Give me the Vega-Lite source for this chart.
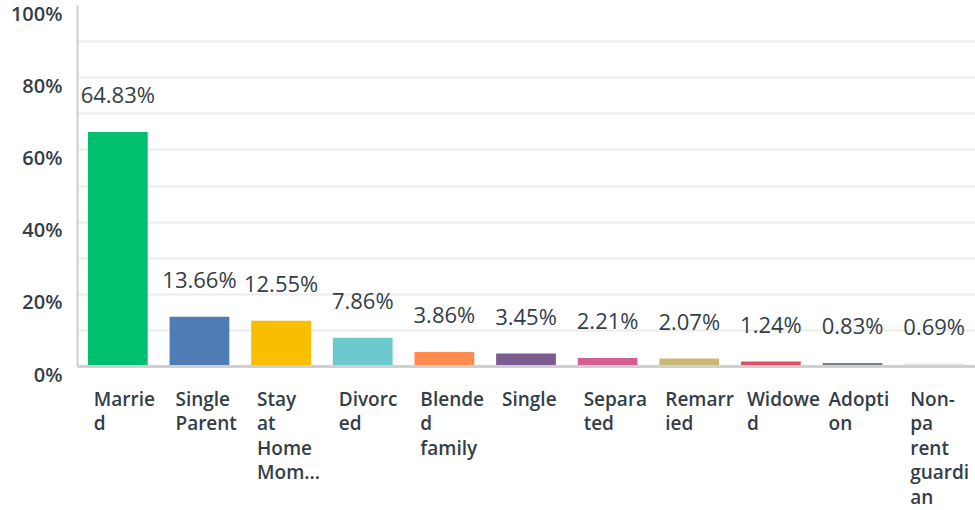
{
  "$schema": "https://vega.github.io/schema/vega-lite/v6.json",
  "autosize": "none",
  "width": 898,
  "height": 361,
  "padding": {"left": 77, "top": 5, "right": 0, "bottom": 144},
  "background": "white",
  "config": {"view": {"stroke": null}},
  "data": {
    "values": [
      {"category": "Married", "pct": 64.83, "label": "64.83%"},
      {"category": "Single Parent", "pct": 13.66, "label": "13.66%"},
      {"category": "Stay at Home Mom...", "pct": 12.55, "label": "12.55%"},
      {"category": "Divorced", "pct": 7.86, "label": "7.86%"},
      {"category": "Blended family", "pct": 3.86, "label": "3.86%"},
      {"category": "Single", "pct": 3.45, "label": "3.45%"},
      {"category": "Separated", "pct": 2.21, "label": "2.21%"},
      {"category": "Remarried", "pct": 2.07, "label": "2.07%"},
      {"category": "Widowed", "pct": 1.24, "label": "1.24%"},
      {"category": "Adoption", "pct": 0.83, "label": "0.83%"},
      {"category": "Non-parent guardian", "pct": 0.69, "label": "0.69%"}
    ]
  },
  "encoding": {
    "x": {
      "field": "category",
      "type": "nominal",
      "sort": null,
      "scale": {"paddingInner": 0.268, "paddingOuter": 0.134},
      "axis": {
        "title": null,
        "labelAngle": 0,
        "labelAlign": "left",
        "labelBaseline": "top",
        "labelOffset": -24,
        "labelPadding": 24,
        "labelFont": "Open Sans",
        "labelFontSize": 19,
        "labelFontWeight": 600,
        "labelColor": "#333e48",
        "labelLineHeight": 24.5,
        "labelLimit": 200,
        "labelExpr": "{'Married':['Marrie','d'],'Single Parent':['Single','Parent'],'Stay at Home Mom...':['Stay','at','Home','Mom...'],'Divorced':['Divorc','ed'],'Blended family':['Blende','d','family'],'Single':['Single'],'Separated':['Separa','ted'],'Remarried':['Remarr','ied'],'Widowed':['Widowe','d'],'Adoption':['Adopti','on'],'Non-parent guardian':['Non-','pa','rent','guardi','an']}[datum.label]",
        "ticks": false,
        "domainColor": "#d0d0d0",
        "domainWidth": 3,
        "zindex": 1
      }
    },
    "y": {
      "field": "pct",
      "type": "quantitative",
      "scale": {"domain": [0, 100], "nice": false},
      "axis": {
        "title": null,
        "values": [0, 10, 20, 30, 40, 50, 60, 70, 80, 90, 100],
        "labelExpr": "datum.value % 20 == 0 ? datum.value + '%' : ''",
        "labelFont": "Open Sans",
        "labelFontSize": 20,
        "labelFontWeight": 600,
        "labelColor": "#333e48",
        "labelPadding": 15,
        "labelOffset": 9,
        "ticks": false,
        "domainColor": "#d0d0d0",
        "domainWidth": 2,
        "gridColor": {"condition": {"test": "datum.value == 100", "value": "transparent"}, "value": "#ececec"},
        "gridWidth": 2
      }
    }
  },
  "layer": [
    {
      "mark": {"type": "bar"},
      "encoding": {
        "color": {
          "field": "category",
          "type": "nominal",
          "sort": null,
          "legend": null,
          "scale": {
            "domain": ["Married", "Single Parent", "Stay at Home Mom...", "Divorced", "Blended family", "Single", "Separated", "Remarried", "Widowed", "Adoption", "Non-parent guardian"],
            "range": ["#00bf6f", "#507cb6", "#f9be00", "#6bc8cd", "#ff8b4f", "#7d5d91", "#d25f90", "#c9b875", "#e05061", "#768086", "#e6e6e6"]
          }
        }
      }
    },
    {
      "mark": {"type": "text", "dy": -36, "baseline": "middle", "align": "center", "font": "Open Sans", "fontSize": 22, "fontWeight": 500, "color": "#333e48"},
      "encoding": {"text": {"field": "label", "type": "nominal"}}
    }
  ]
}
